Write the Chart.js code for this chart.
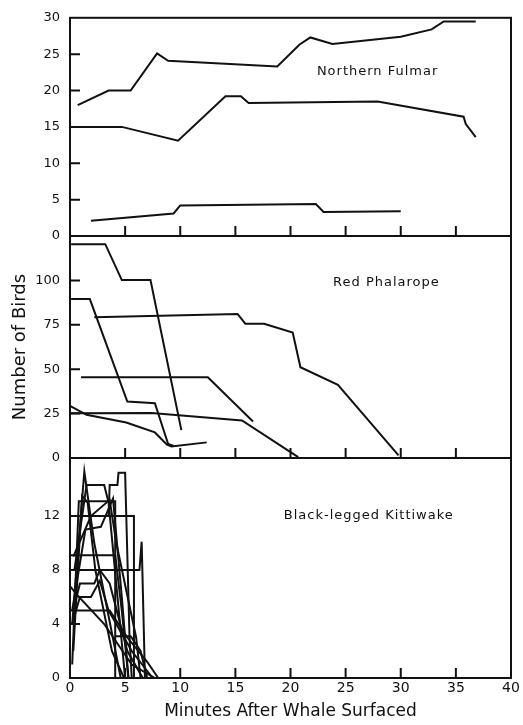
<!DOCTYPE html>
<html><head><meta charset="utf-8">
<script src="https://cdn.jsdelivr.net/npm/chart.js@4/dist/chart.umd.min.js"></script>
<style>
html,body{margin:0;padding:0;background:#fff;}
#wrap{position:relative;width:523px;height:725px;}
canvas{position:absolute;left:0;top:0;}
</style>
</head><body>
<div id="wrap">
<canvas id="c1" width="523" height="725"></canvas>
<canvas id="c2" width="523" height="725"></canvas>
<canvas id="c3" width="523" height="725"></canvas>
</div>
<script>
// ---- data: [minutes, birds] pairs ----
const xTicks = [0, 5, 10, 15, 20, 25, 30, 35, 40];
const fulmarTicks = [0, 5, 10, 15, 20, 25, 30];
const phalaropeTicks = [0, 25, 50, 75, 100];
const kittiwakeTicks = [0, 4, 8, 12];

const fulmar1 = [[0.7,18],[3.5,20],[5.5,20],[7.9,25.1],[8.9,24.1],[18.8,23.3],[20.8,26.3],[21.8,27.3],[23.8,26.4],[30,27.4],[32.8,28.4],[33.9,29.5],[36.8,29.5]];
const fulmar2 = [[0,15],[4.7,15],[9.8,13.1],[14.1,19.2],[15.5,19.2],[16.2,18.3],[27.9,18.5],[35.7,16.4],[35.9,15.4],[36.8,13.6]];
const fulmar3 = [[1.9,2.1],[9.4,3.1],[10,4.2],[22.3,4.4],[23,3.3],[30,3.4]];

const phal1 = [[0.1,120.4],[3.2,120.4],[4.7,100.2],[7.3,100.2],[10.1,15.7]];
const phal2 = [[0.1,89.5],[1.8,89.5],[5.2,31.8],[7.7,30.8],[8.9,7.9],[9.4,6.8]];
const phal3 = [[2.2,79.2],[15.2,81.1],[15.9,75.6],[17.6,75.6],[20.2,70.6],[20.9,51.1],[24.3,41.2],[29.8,1.5]];
const phal4 = [[1,45.5],[12.5,45.5],[16.6,20.6]];
const phal5 = [[0,29.4],[1.5,24.3],[5.1,20],[7.7,14.4],[8.8,7.5],[9.2,6.5],[12.4,8.8]];
const phal6 = [[0,25.2],[7.4,25.4],[15.6,21.1],[20.7,0.5]];

const kitti1 = [[0.2,4],[1.3,15.3],[2.2,10],[4.6,0]];
const kitti2 = [[0.2,1],[0.8,13.1],[4.1,13.1],[4.1,0]];
const kitti3 = [[0.4,8],[1.5,14.3],[3.1,14.3],[3.5,13],[5.0,0]];
const kitti4 = [[3.5,12],[3.6,14.3],[4.3,14.3],[4.4,15.2],[5.0,15.2],[5.4,3],[5.6,0]];
const kitti5 = [[0,12],[5.8,12],[5.8,0]];
const kitti6 = [[0,9.1],[4.1,9.1],[4.7,5],[5.3,0]];
const kitti7 = [[0,8],[6.3,8],[6.5,10.1],[6.8,0]];
const kitti8 = [[0.3,5],[0.9,7],[2.2,7],[2.7,8],[3.6,7],[5.2,2],[6.6,0]];
const kitti9 = [[0.2,4],[0.9,6],[1.9,6],[2.7,7.2],[3.5,5],[5.6,2],[7.5,0]];
const kitti10 = [[0,5],[3.6,5],[5.2,3],[7,1.2],[8,0]];
const kitti11 = [[0,6.8],[0.6,6.2],[3.1,4],[5.6,1],[7.7,0]];
const kitti12 = [[0.2,5],[1.4,11],[2.8,11.2],[3.9,13.3],[4.7,6],[5.3,0]];
const kitti13 = [[0.3,9],[1.9,12],[3.6,13.2],[4.2,10],[6,3],[6.4,0]];
const kitti14 = [[0.3,2],[1.1,13.5],[1.6,13],[2.3,8],[3.8,2],[4.9,0]];
const kitti15 = [[4.1,3.1],[5.5,3.1],[6.4,2],[7,0]];

const fulmarSeries = [fulmar1, fulmar2, fulmar3];
const phalaropeSeries = [phal1, phal2, phal3, phal4, phal5, phal6];
const kittiwakeSeries = [kitti1,kitti2,kitti3,kitti4,kitti5,kitti6,kitti7,kitti8,kitti9,kitti10,kitti11,kitti12,kitti13,kitti14,kitti15];

// ---- rendering ----
Chart.defaults.font.family = "'DejaVu Sans', sans-serif";
Chart.defaults.color = '#111';
const INK = '#111111';

const framePlugin = {
  id: 'frame',
  afterDatasetsDraw(chart, args, opts) {
    const {ctx, chartArea: a} = chart;
    const x = chart.scales.x, y = chart.scales.y;
    ctx.save();
    ctx.strokeStyle = INK;
    ctx.lineWidth = 2;
    ctx.strokeRect(a.left, a.top, a.right - a.left, a.bottom - a.top);
    ctx.beginPath();
    xTicks.forEach(v => {
      if (v > x.min && v < x.max) {
        const px = x.getPixelForValue(v);
        ctx.moveTo(px, a.bottom); ctx.lineTo(px, a.bottom - 10);
      }
    });
    opts.yTicks.forEach(v => {
      if (v > y.min && v < y.max) {
        const py = y.getPixelForValue(v);
        ctx.moveTo(a.left, py); ctx.lineTo(a.left + 10, py);
      }
    });
    ctx.stroke();
    ctx.fillStyle = INK;
    ctx.font = "13px 'DejaVu Sans'";
    if ('letterSpacing' in ctx) ctx.letterSpacing = '1px';
    ctx.textAlign = 'center';
    ctx.textBaseline = 'middle';
    ctx.fillText(opts.text, x.getPixelForValue(opts.tx), y.getPixelForValue(opts.ty));
    ctx.restore();
  }
};

function makeChart(id, series, yMax, yTicks, pad, label, showX, yTitle) {
  const datasets = series.map(s => ({
    data: s.map(p => ({x: p[0], y: p[1]})),
    borderColor: INK, borderWidth: 2, pointRadius: 0, tension: 0, fill: false
  }));
  return new Chart(document.getElementById(id), {
    type: 'line',
    data: {datasets},
    plugins: [framePlugin],
    options: {
      responsive: false, animation: false,
      layout: {padding: pad},
      plugins: {legend: {display: false}, tooltip: {enabled: false},
        frame: {yTicks, text: label.text, tx: label.x, ty: label.y}},
      scales: {
        x: {
          type: 'linear', min: 0, max: 40,
          afterBuildTicks: s => { s.ticks = xTicks.map(v => ({value: v})); },
          grid: {display: false, drawTicks: false}, border: {display: false},
          ticks: {display: showX, padding: 2, font: {size: 14}, color: INK},
          title: {display: showX, text: 'Minutes After Whale Surfaced', font: {size: 17}, color: INK, padding: {top: 0, bottom: 3}},
          afterFit: s => { s.height = showX ? 47 : 0; }
        },
        y: {
          type: 'linear', min: 0, max: yMax,
          afterBuildTicks: s => { s.ticks = yTicks.map(v => ({value: v})); },
          grid: {display: false, drawTicks: false}, border: {display: false},
          ticks: {padding: 10, font: {size: 13}, color: INK},
          title: {display: !!yTitle, text: yTitle || '', font: {size: 18}, color: INK, padding: {top: 10, bottom: 0}},
          afterFit: s => { s.width = 70; }
        }
      }
    }
  });
}

makeChart('c1', fulmarSeries, 30, fulmarTicks,
  {top: 14, bottom: 489, left: 0, right: 12},
  {text: 'Northern Fulmar', x: 27.9, y: 22.6}, false, null);
makeChart('c2', phalaropeSeries, 125, phalaropeTicks,
  {top: 236, bottom: 267, left: 0, right: 12},
  {text: 'Red Phalarope', x: 28.7, y: 98.5}, false, 'Number of Birds');
makeChart('c3', kittiwakeSeries, 16.3, kittiwakeTicks,
  {top: 458, bottom: 0, left: 0, right: 12},
  {text: 'Black-legged Kittiwake', x: 27.1, y: 12.0}, true, null);
</script>
</body></html>
